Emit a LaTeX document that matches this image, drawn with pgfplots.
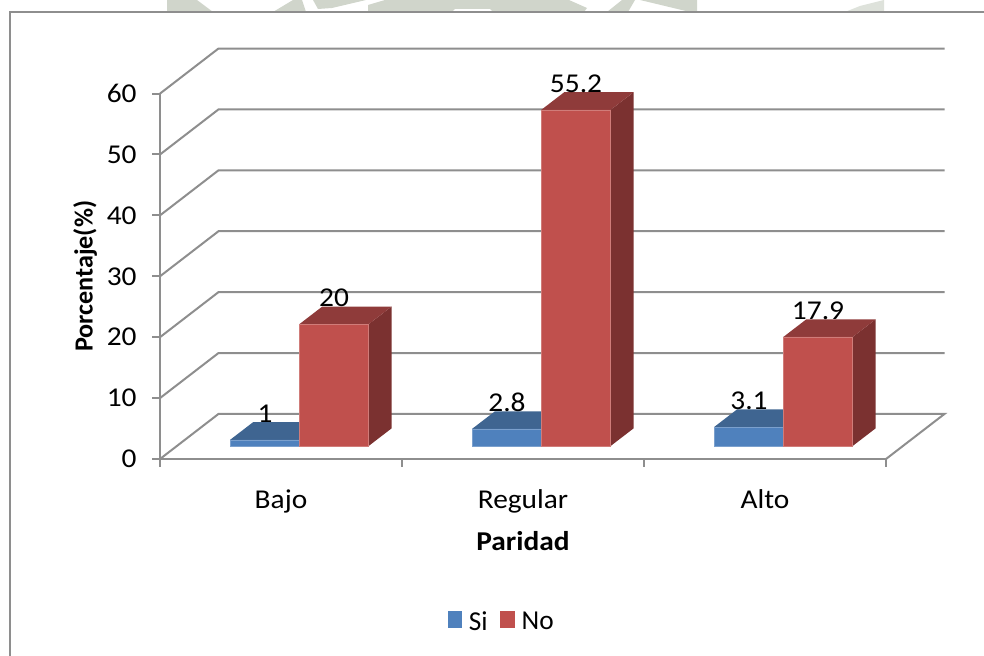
\documentclass[border=0pt]{standalone}
\usepackage{pgfplots}
\pgfplotsset{compat=1.18}
\usepackage{fontspec}
\setmainfont[FakeStretch=1.08]{Carlito}
\newfontfamily\uprightlabel{Carlito}

\definecolor{gridgray}{HTML}{8E8E8E}
\definecolor{blueFront}{HTML}{4F81BD}
\definecolor{blueTop}{HTML}{3F6591}
\definecolor{redFront}{HTML}{C0504D}
\definecolor{redTop}{HTML}{8F3B3A}
\definecolor{redSide}{HTML}{7B3130}
\definecolor{stamp}{HTML}{D0D5CB}

% depth faces of a bar: left edge, right edge, value, top colour, side colour
\newcommand{\depthfaces}[5]{%
  \pgfmathsetmacro{\xa}{#1}%
  \pgfmathsetmacro{\xb}{#2}%
  \pgfmathsetmacro{\xc}{#2+0.095}%
  \pgfmathsetmacro{\xd}{#1+0.095}%
  \pgfmathsetmacro{\yb}{#3+2.9}%
  \pgfmathsetmacro{\yc}{2.9}%
  \addplot[barlift,fill=#5,draw=none,forget plot] coordinates
    {(\xb,0) (\xc,\yc) (\xc,\yb) (\xb,#3)} -- cycle;
  \addplot[barlift,fill=#4,draw=none,forget plot] coordinates
    {(\xa,#3) (\xb,#3) (\xc,\yb) (\xd,\yb)} -- cycle;
}

% one level of the wall grid: rising edge, then across the back wall
\newcommand{\wallline}[1]{%
  \pgfmathsetmacro{\yb}{#1+7.4}%
  \addplot[wall,forget plot] coordinates {(0,#1) (0.2417,\yb) (3.2417,\yb)};
}

\pgfplotstableread{
x    value
0.5  1
1.5  2.8
2.5  3.1
}\siTable
\pgfplotstableread{
x    value
0.5  20
1.5  55.2
2.5  17.9
}\noTable

\begin{document}
\begin{tikzpicture}[x=1pt,y=1pt]
  \useasboundingbox (0,0) rectangle (738pt,492pt);

  % pale letterhead emblem showing above the frame
  \begin{scope}[shift={(0pt,492pt)},x=0.75pt,y=-0.75pt]
    \fill[stamp] (167,0) -- (197,0) -- (213,12) -- (167,12) -- cycle;
    \fill[stamp] (273,12) -- (293,0) -- (302,0) -- (306,12) -- cycle;
    \fill[stamp] (313,0) -- (366,0) -- (332,8) -- (318,9) -- cycle;
    \fill[stamp] (368,12) -- (368,5) -- (385,0) -- (569,0) -- (587,8) -- (584,12)
      -- (493,12) -- (490,9) -- (455,9) -- (452,12) -- cycle;
    \fill[stamp] (607,12) -- (622,0) -- (635,0) -- (628,12) -- cycle;
    \fill[stamp] (640,0) -- (697,0) -- (697,12) -- (690,12) -- cycle;
    \fill[stamp!70!white] (845,12) -- (860,6) -- (884,0) -- (884,12) -- cycle;
  \end{scope}

  % chart frame; its right and bottom edges run off the page
  \draw[gridgray,line width=1.5pt] (7.5pt,-2pt) -- (7.5pt,483pt) -- (740pt,483pt);

  \begin{axis}[
      at={(120pt,147.75pt)},anchor=south west,
      x=181.5pt,y=4.5675pt,
      xmin=0,xmax=3,ymin=0,ymax=60,
      clip=false,
      axis x line*=bottom,axis y line*=left,
      axis line style={-,gridgray,line width=1.5pt},
      tick style={gridgray,line width=1.5pt},
      tick align=outside,major tick length=6pt,
      xtick={0,1,2,3},
      xticklabels={Bajo,Regular,Alto},
      x tick label as interval=true,
      ytick={0,10,20,30,40,50,60},
      /pgf/number format/assume math mode=true,
      tick label style={font=\fontsize{20.4}{24}\selectfont,black},
      xticklabel style={yshift=-13.5pt},
      yticklabel style={xshift=-8pt},
      xlabel={\textbf{Paridad}},
      ylabel={\uprightlabel\textbf{Porcentaje(\%)}},
      every axis x label/.style={at={(0.5,-0.224)},anchor=center,black,
        font=\fontsize{20.4}{24}\selectfont},
      every axis y label/.style={at={(-0.1030,0.5)},anchor=center,rotate=90,black,
        font=\fontsize{19.6}{24}\selectfont},
      wall/.style={gridgray,line width=1.5pt},
      barlift/.style={yshift=9.75pt},
      barvalue/.style={nodes near coords,
        every node near coord/.append style={
          font=\fontsize{20.4}{24}\selectfont,black,anchor=center,
          yshift=19.8pt,xshift=#1}},
      legend columns=2,
      legend style={at={(0.471,-0.446)},anchor=center,draw=none,fill=none,
        font=\uprightlabel\fontsize{20.5}{24}\selectfont,inner sep=0pt,
        /tikz/every even column/.style={column sep=7.5pt}},
      legend image code/.code={\path[draw=none,fill=none] (0pt,0pt) -- (14pt,0pt);
        \fill[#1,draw=none] (0pt,-14.2pt) rectangle (11.2pt,-1.4pt);},
    ]
    % floor and walls
    \addplot[wall,forget plot] coordinates {(0,0) (0.2417,7.4) (3.2417,7.4) (3,0)};
    \wallline{10}\wallline{20}\wallline{30}\wallline{40}\wallline{50}\wallline{60}

    % first series
    \depthfaces{0.2893}{0.5757}{1}{blueTop}{blueTop}
    \depthfaces{1.2893}{1.5757}{2.8}{blueTop}{blueTop}
    \depthfaces{2.2893}{2.5757}{3.1}{blueTop}{blueTop}
    \addplot[ybar,bar width=69.3*0.75pt,bar shift=-12pt,barlift,barvalue=-12pt,
             fill=blueFront,draw=blueFront!75!white,line width=0.4pt]
      table[x=x,y=value] {\siTable};
    \addlegendentry{Si}

    % second series
    \depthfaces{0.5757}{0.8621}{20}{redTop}{redSide}
    \depthfaces{1.5757}{1.8621}{55.2}{redTop}{redSide}
    \depthfaces{2.5757}{2.8621}{17.9}{redTop}{redSide}
    \addplot[ybar,bar width=69.3*0.75pt,bar shift=39.75pt,barlift,barvalue=39.75pt,
             fill=redFront,draw=redFront!75!white,line width=0.4pt]
      table[x=x,y=value] {\noTable};
    \addlegendentry{No}
  \end{axis}
\end{tikzpicture}
\end{document}
